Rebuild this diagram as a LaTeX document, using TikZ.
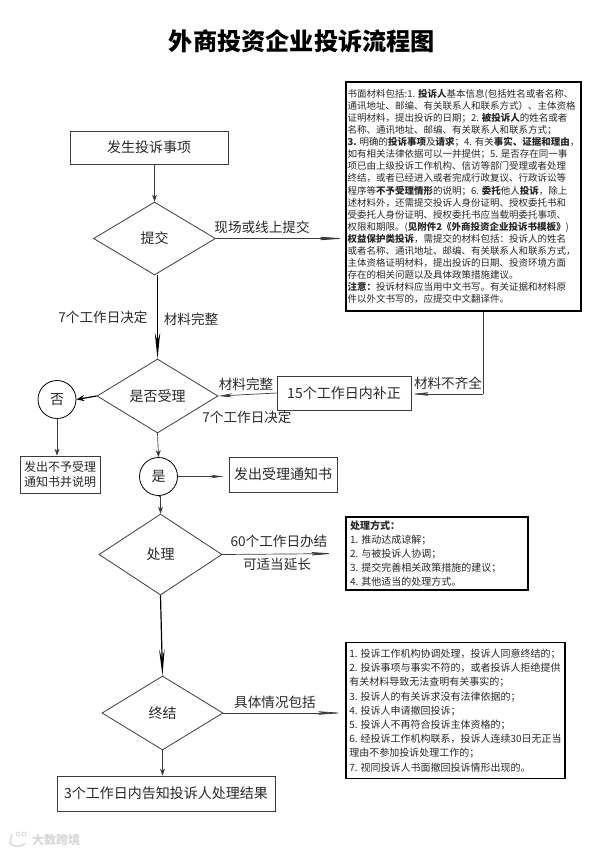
\documentclass[tikz,border=0pt]{standalone}
\usepackage{fontspec}
\setmainfont{Noto Sans CJK SC}
\usepackage{xcolor}
\usetikzlibrary{positioning, shapes.geometric, calc, arrows.meta}
\definecolor{lineGray}{RGB}{60, 60, 60}
\definecolor{textGray}{RGB}{40, 40, 40}
\definecolor{markGray}{RGB}{215, 215, 215}
\tikzset{
    stepbox/.style={
        rectangle,
        draw=lineGray,
        line width=0.8pt,
        fill=white,
        text=textGray,
        align=center,
        inner sep=0pt,
        font=\fontsize{14}{16}\selectfont
    },
    choice/.style={
        diamond,
        draw=lineGray,
        line width=0.8pt,
        fill=white,
        text=textGray,
        aspect=1.65,
        inner sep=0pt,
        font=\fontsize{14}{16}\selectfont
    },
    answer/.style={
        circle,
        draw=black,
        line width=0.8pt,
        fill=white,
        text=textGray,
        minimum size=38pt,
        inner sep=0pt,
        font=\fontsize{14}{16}\selectfont
    },
    notebox/.style={
        rectangle,
        draw=black,
        line width=1.1pt,
        fill=white,
        text=textGray,
        align=left,
        inner sep=0pt
    },
    flow/.style={
        -{Stealth[length=7pt,width=5pt]},
        line width=0.7pt,
        color=lineGray
    },
    heavyflow/.style={
        -{Stealth[length=26pt,width=5.5pt]},
        line width=1.2pt,
        color=black
    },
    dartflow/.style={
        -{Stealth[length=30pt,width=4pt]},
        line width=0.7pt,
        color=lineGray
    },
    tag/.style={
        text=textGray,
        inner sep=0pt,
        font=\fontsize{13.6}{16}\selectfont
    }
}
\newcommand{\textb}[1]{{\bfseries #1}}
\begin{document}
\begin{tikzpicture}[x=1pt,y=-1pt]
  \useasboundingbox (0,0) rectangle (602,852);
  \node[font=\fontsize{24.2}{28}\bfseries, text=black] (title) at (302,41) {外商投资企业投诉流程图};

  \node[stepbox, minimum width=158pt, minimum height=33pt] (event) at (149,147.5) {发生投诉事项};
  \node[choice, minimum width=122pt, minimum height=73pt] (submit) at (154.5,238.5) {提交};
  \node[choice, minimum width=121pt, minimum height=74pt] (accept) at (157.5,396) {是否受理};
  \node[answer] (no) at (57,399.5) {否};
  \node[answer] (yes) at (158.5,476.5) {是};
  \node[stepbox, minimum width=80pt, minimum height=37pt, font=\fontsize{12}{15}\selectfont] (refuse) at (60,474.5) {发出不予受理\\通知书并说明};
  \node[stepbox, minimum width=108pt, minimum height=35pt] (notice) at (283,474.5) {发出受理通知书};
  \node[stepbox, minimum width=134pt, minimum height=34pt] (fix) at (344,393) {15个工作日内补正};
  \node[choice, minimum width=123pt, minimum height=81pt] (handle) at (160.5,554.5) {处理};
  \node[choice, minimum width=121pt, minimum height=74pt] (close) at (162.5,713) {终结};
  \node[stepbox, minimum width=218pt, minimum height=35pt] (result) at (166,793.5) {3个工作日内告知投诉人处理结果};

  \node[notebox, minimum width=235pt, minimum height=229pt, font=\fontsize{9.5}{12.1}\selectfont] (material) at (463.5,196.5) {%
    书面材料包括:1. \textb{投诉人}基本信息(包括姓名或者名称、\\
    通讯地址、邮编、有关联系人和联系方式^^^^ff09、主体资格\\
    证明材料^^^^ff0c提出投诉的日期^^^^ff1b2. \textb{被投诉人}的姓名或者\\
    名称、通讯地址、邮编、有关联系人和联系方式^^^^ff1b\\
    \textb{3.} 明确的\textb{投诉事项}及\textb{请求}^^^^ff1b4. 有关\textb{事实、证据和理由}^^^^ff0c\\
    如有相关法律依据可以一并提供^^^^ff1b5. 是否存在同一事\\
    项已由上级投诉工作机构、信访等部门受理或者处理\\
    终结^^^^ff0c或者已经进入或者完成行政复议、行政诉讼等\\
    程序等\textb{不予受理情形}的说明^^^^ff1b6. \textb{委托}他人\textb{投诉}^^^^ff0c除上\\
    述材料外^^^^ff0c还需提交投诉人身份证明、授权委托书和\\
    受委托人身份证明、授权委托书应当载明委托事项、\\
    权限和期限。(\textb{见附件2《外商投资企业投诉书模板》})\\
    \textb{权益保护类投诉}^^^^ff0c需提交的材料包括^^^^ff1a投诉人的姓名\\
    或者名称、通讯地址、邮编、有关联系人和联系方式^^^^ff0c\\
    主体资格证明材料^^^^ff0c提出投诉的日期、投资环境方面\\
    存在的相关问题以及具体政策措施建议。\\
    \textb{注意^^^^ff1a}投诉材料应当用中文书写。有关证据和材料原\\
    件以外文书写的^^^^ff0c应提交中文翻译件。};
  \node[notebox, minimum width=182pt, minimum height=73pt, font=\fontsize{10}{14}\selectfont, align=left] (method) at (437,553.5) {%
    \makebox[174pt][l]{\textb{处理方式^^^^ff1a}}\\
    1. 推动达成谅解^^^^ff1b\\
    2. 与被投诉人协调^^^^ff1b\\
    3. 提交完善相关政策措施的建议^^^^ff1b\\
    4. 其他适当的处理方式。};
  \node[notebox, minimum width=219pt, minimum height=136pt, font=\fontsize{10}{14.2}\selectfont] (detail) at (455.5,710.5) {%
    1. 投诉工作机构协调处理^^^^ff0c投诉人同意终结的^^^^ff1b\\
    2. 投诉事项与事实不符的^^^^ff0c或者投诉人拒绝提供\\
    有关材料导致无法查明有关事实的^^^^ff1b\\
    3. 投诉人的有关诉求没有法律依据的^^^^ff1b\\
    4. 投诉人申请撤回投诉^^^^ff1b\\
    5. 投诉人不再符合投诉主体资格的^^^^ff1b\\
    6. 经投诉工作机构联系^^^^ff0c投诉人连续30日无正当\\
    理由不参加投诉处理工作的^^^^ff1b\\
    7. 视同投诉人书面撤回投诉情形出现的。};

  \coordinate (bend) at (483,394);
  \draw[flow] (event.south -| submit.north) -- (submit.north);
  \draw[heavyflow] (submit.south -| accept.north) -- (accept.north);
  \draw[dartflow] (submit.east) -- (submit.east -| material.west);
  \draw[line width=0.7pt, color=lineGray] (material.south -| bend) -- (bend);
  \draw[-{Stealth[length=20pt,width=4pt]}, line width=0.7pt, color=lineGray] (bend) -- (bend -| fix.east);
  \draw[-{Stealth[length=14pt,width=4pt]}, line width=0.7pt, color=lineGray] (fix.west) -- (accept.east);
  \draw[-{Stealth[length=8pt,width=6pt]}, line width=1.2pt, color=black] (accept.west) -- (no.east);
  \draw[flow] (no.south) -- (no.south |- refuse.north);
  \draw[flow] (accept.south) -- (yes.north);
  \draw[-{Stealth[length=13pt,width=3.5pt]}, line width=0.7pt, color=lineGray, shorten >=5pt] (yes.east) -- (yes.east -| notice.west);
  \draw[flow] (yes.south) -- (yes.south -| handle.north) -- (handle.north);
  \draw[-{Stealth[length=26pt,width=4pt]}, line width=0.7pt, color=lineGray, shorten >=12pt] (handle.east) -- (method.west);
  \draw[heavyflow] (handle.south) -- (close.north);
  \draw[dartflow, shorten >=2pt] (close.east) -- (close.east -| detail.west);
  \draw[flow] (close.south) -- (close.south |- result.north);

  \node[tag] (sceneLabel) at (262,227) {现场或线上提交};
  \node[tag] (dayLabel) at (103,317) {7个工作日决定};
  \node[tag] (fullLabel) at (191,319) {材料完整};
  \node[tag] (backLabel) at (246,384) {材料完整};
  \node[tag] (lackLabel) at (448,383) {材料不齐全};
  \node[tag] (dayLabelB) at (247,417) {7个工作日决定};
  \node[tag] (sixtyLabel) at (279,541) {60个工作日办结};
  \node[tag] (extendLabel) at (277,564) {可适当延长};
  \node[tag] (caseLabel) at (275,702) {具体情况包括};

  % watermark
  \draw[markGray, line width=1.4pt] (12,834) -- (10,843) arc (200:340:8pt and 5pt);
  \draw[markGray, line width=0.8pt] (18,834) circle (2pt) (24,834) circle (2pt);
  \node[text=markGray, inner sep=0pt, font=\fontsize{12}{14}\bfseries] (mark) at (56,839.5) {大数跨境};
\end{tikzpicture}
\end{document}
